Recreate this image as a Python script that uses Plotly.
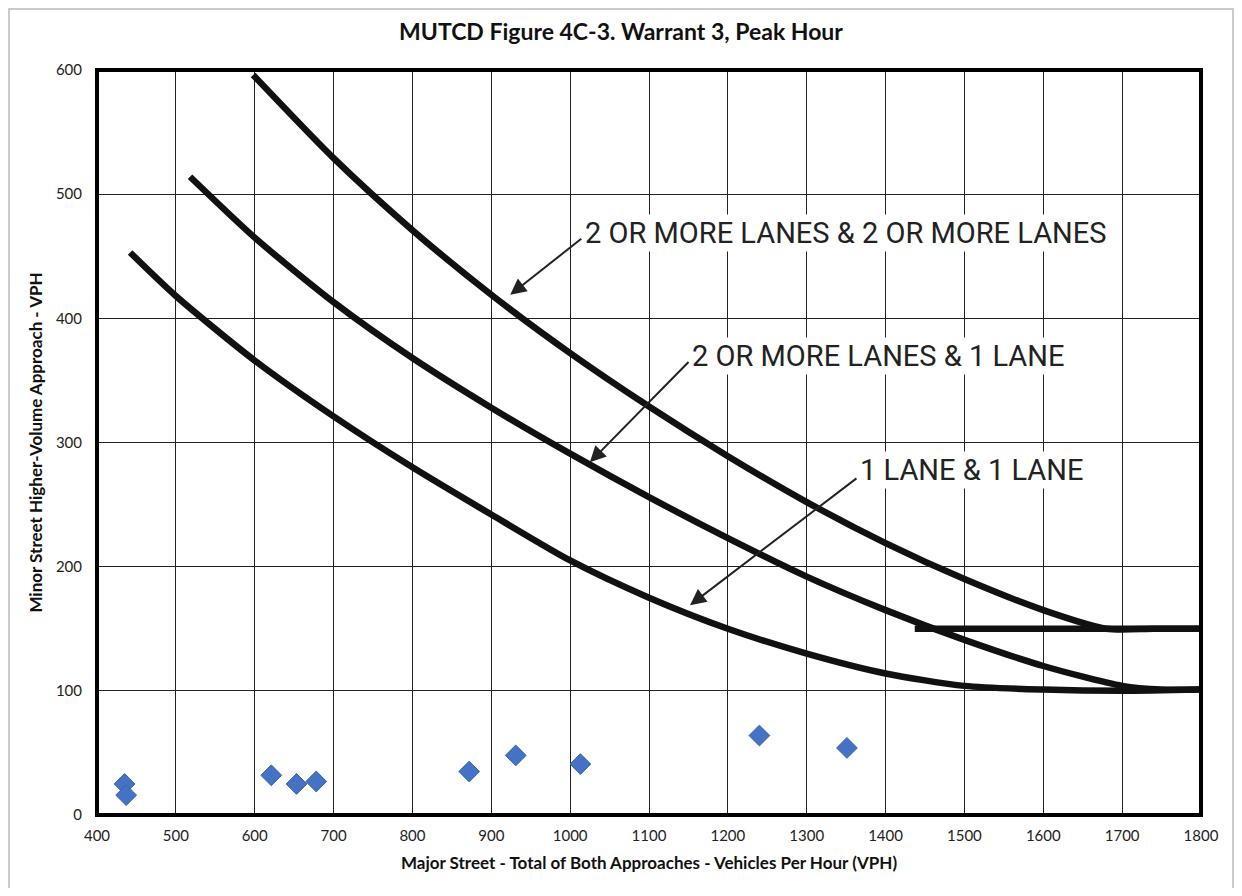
import plotly.graph_objects as go

# ---- Data ----
two_two_x = [598, 700, 800, 900, 1000, 1100, 1200, 1300, 1400, 1500, 1600, 1680, 1740, 1800]
two_two_y = [596, 529, 471, 419, 372, 329, 289, 252, 219, 190, 165, 150, 150, 150]

two_one_x = [518, 600, 700, 800, 900, 1000, 1100, 1200, 1300, 1400, 1500, 1600, 1700, 1750, 1800]
two_one_y = [514, 465, 413, 368, 328, 291, 256, 223, 192, 165, 141, 120, 104, 101, 101]

one_one_x = [442, 500, 600, 700, 800, 900, 1000, 1100, 1200, 1300, 1400, 1500, 1600, 1700, 1800]
one_one_y = [453, 418, 366, 321, 280, 242, 205, 175, 150, 130, 114, 104, 101, 100, 101]

floor150_x = [1437, 1800]
floor150_y = [150, 150]

obs_x = [435, 437, 621, 653, 678, 872, 931, 1013, 1240, 1351]
obs_y = [25, 16, 32, 25, 27, 35, 48, 41, 64, 54]

x_ticks = list(range(400, 1801, 100))
y_ticks = list(range(0, 601, 100))

title_text = "MUTCD Figure 4C-3. Warrant 3, Peak Hour"
x_title = "Major Street - Total of Both Approaches - Vehicles Per Hour (VPH)"
y_title = "Minor Street Higher-Volume Approach - VPH"
label_22 = "2 OR MORE LANES & 2 OR MORE LANES"
label_21 = "2 OR MORE LANES & 1 LANE"
label_11 = "1 LANE & 1 LANE"

# page body has an 8px margin; the figure is sized so the plot area lands where the reference has it
W, H = 1226, 880
ML, MR, MT, MB = 89, 33, 62, 73
PW, PH = W - ML - MR, H - MT - MB

fig = go.Figure()

line_style = dict(color="#111111", width=6.5, shape="spline", smoothing=0.7)
for xs, ys, nm in [(two_two_x, two_two_y, "2+ & 2+"),
                   (two_one_x, two_one_y, "2+ & 1"),
                   (one_one_x, one_one_y, "1 & 1")]:
    fig.add_trace(go.Scatter(x=xs, y=ys, mode="lines", line=line_style,
                             name=nm, showlegend=False, hoverinfo="skip"))

fig.add_trace(go.Scatter(x=floor150_x, y=floor150_y, mode="lines",
                         line=dict(color="#111111", width=6.5),
                         showlegend=False, hoverinfo="skip"))

fig.add_trace(go.Scatter(x=obs_x, y=obs_y, mode="markers",
                         marker=dict(symbol="diamond", size=16, color="#4472C4",
                                     line=dict(color="#3A63AD", width=1)),
                         showlegend=False))

label_font = dict(family="Roboto, Liberation Sans, sans-serif", size=29, color="#222222")

annotations = []
for txt, lx, ly in [(label_22, 1016, 469), (label_21, 1152, 370), (label_11, 1365, 278)]:
    annotations.append(dict(x=lx, y=ly, xref="x", yref="y", text=txt, showarrow=False,
                            xanchor="left", yanchor="middle", font=label_font,
                            bgcolor="white", borderpad=1))
for tx, ty, axx, ayy in [(924, 419, 1016, 465), (1025, 284, 1152, 366), (1152, 169, 1365, 272)]:
    annotations.append(dict(x=tx, y=ty, xref="x", yref="y", ax=axx, ay=ayy,
                            axref="x", ayref="y", text="", showarrow=True,
                            arrowhead=2, arrowsize=1.6, arrowwidth=2, arrowcolor="#222222"))

fig.update_layout(
    width=W, height=H,
    paper_bgcolor="white", plot_bgcolor="white",
    margin=dict(l=ML, r=MR, t=MT, b=MB),
    title=dict(text="<b>" + title_text + "</b>", x=0.5, xanchor="center",
               y=1 - 24 / H, yanchor="middle",
               font=dict(family="Lato, Open Sans, sans-serif", size=23, color="#111111")),
    annotations=annotations,
    shapes=[
        dict(type="rect", xref="paper", yref="paper", x0=0, x1=1, y0=0, y1=1,
             line=dict(color="black", width=4), layer="above"),
        dict(type="rect", xref="paper", yref="paper",
             x0=(1 - ML) / PW, x1=(W - 1 - ML) / PW,
             y0=-(MB + 20) / PH, y1=(PH + MT - 1) / PH,
             line=dict(color="#bbbbbb", width=1.5), layer="below"),
    ],
)

tick_font = dict(family="Lato, Open Sans, sans-serif", size=15, color="#222222")
title_font = dict(family="Lato, Open Sans, sans-serif", size=17, color="#111111")

fig.update_xaxes(range=[400, 1800], tickvals=x_ticks, ticktext=[str(v) for v in x_ticks],
                 showgrid=True, gridcolor="#222222", gridwidth=1, zeroline=False,
                 ticks="", ticklabelstandoff=10, tickfont=tick_font,
                 title=dict(text="<b>" + x_title + "</b>", standoff=14, font=title_font))
fig.update_yaxes(range=[0, 600], tickvals=y_ticks, ticktext=[str(v) for v in y_ticks],
                 showgrid=True, gridcolor="#222222", gridwidth=1, zeroline=False,
                 ticks="", ticklabelstandoff=14, tickfont=tick_font,
                 title=dict(text="<b>" + y_title + "</b>", standoff=8, font=title_font))

fig.write_html("out.html")
